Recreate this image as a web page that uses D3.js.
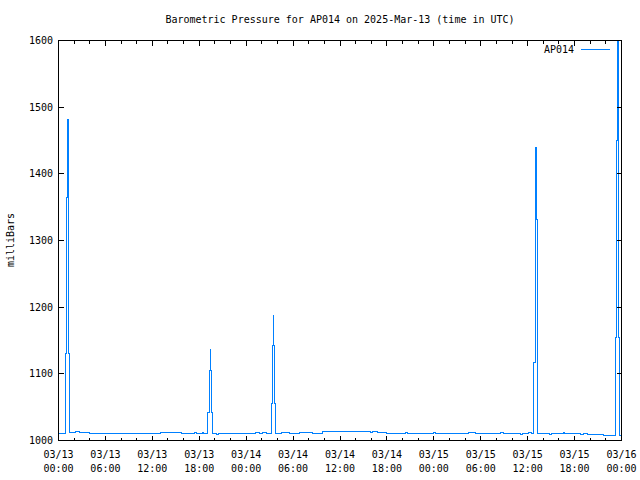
<!DOCTYPE html>
<html>
<head>
<meta charset="utf-8">
<script src="https://cdn.jsdelivr.net/npm/d3@7"></script>
<style>
  html, body { margin: 0; padding: 0; background: #fff; }
  svg text { font-family: "DejaVu Sans Mono", "Liberation Mono", monospace; font-size: 10px; fill: #000; }
</style>
</head>
<body>
<svg id="chart" width="640" height="480"></svg>
<script>
// ---- Data (hours since 2025-03-13 00:00 UTC, pressure in millibars) ----
const hours = [
  0, 0.93, 1.06, 1.19, 1.24, 1.32, 1.47, 1.79, 2.18, 2.69, 2.91, 3.97,
  13.07, 15.72, 17.33, 17.64, 18.45, 18.58,
  19.09, 19.25, 19.38, 19.45, 19.54, 19.64,
  20.20, 20.46, 24.05, 24.72, 25.24, 25.75, 26.13, 26.61,
  27.20, 27.33, 27.45, 27.52, 27.58, 27.76,
  28.53, 29.59, 30.87, 32.54, 33.18, 33.82, 39.84, 40.14, 40.83, 41.98,
  44.32, 44.58, 47.91, 48.17, 52.43, 53.29, 56.50, 56.92, 59.06, 59.28,
  60.12, 60.43,
  60.76, 60.94, 61.02, 61.11, 61.20, 61.32,
  62.81, 63.03, 64.53, 64.73, 66.74, 67.17, 67.60, 69.73,
  71.27, 71.39, 71.48, 71.57, 71.65, 71.74, 72
];
const pressure = [
  1011, 1130, 1364, 1481, 1364, 1130, 1012.5, 1012, 1013, 1012.5, 1011.5, 1010,
  1011.5, 1010, 1011.5, 1010, 1011.5, 1010,
  1042, 1105, 1136, 1105, 1042, 1010,
  1008.5, 1010, 1011, 1010, 1011.5, 1010.5, 1012, 1010,
  1055, 1142, 1187, 1142, 1055, 1010,
  1012, 1011, 1011.5, 1010.5, 1011, 1013.5, 1011.5, 1013, 1012, 1010,
  1011.5, 1010, 1011.5, 1010, 1011.5, 1010, 1011.5, 1010, 1008.5, 1010,
  1011.5, 1010,
  1117, 1331, 1440, 1331, 1117, 1010,
  1008.5, 1010, 1011.5, 1010, 1008.5, 1010, 1008.5, 1007,
  1155, 1450, 1620, 1450, 1155, 1007, 1007
];
const seriesName = "AP014";
const titleText = "Barometric Pressure for AP014 on 2025-Mar-13 (time in UTC)";
const yLabel = "milliBars";
const yTicks = [1000, 1100, 1200, 1300, 1400, 1500, 1600];
const startMs = Date.UTC(2025, 2, 13, 0, 0);
const endMs = Date.UTC(2025, 2, 16, 0, 0);

const data = hours.map((h, i) => ({ t: new Date(startMs + h * 3600e3), v: pressure[i] }));

// ---- Layout ----
const svg = d3.select("#chart");
const L = 58.5, R = 621.5, T = 40.5, B = 440.5;

const x = d3.scaleUtc().domain([new Date(startMs), new Date(endMs)]).range([L, R]);
const y = d3.scaleLinear().domain([1000, 1600]).range([B, T]);

// Clip
svg.append("defs").append("clipPath").attr("id", "clip")
  .append("rect").attr("x", L).attr("y", T).attr("width", R - L).attr("height", B - T);

// Data line
const line = d3.line().x(d => x(d.t)).y(d => y(d.v)).curve(d3.curveStepAfter);
svg.append("path")
  .datum(data)
  .attr("clip-path", "url(#clip)")
  .attr("fill", "none")
  .attr("stroke", "#0080ff")
  .attr("stroke-width", 1)
  .attr("shape-rendering", "crispEdges")
  .attr("d", line);

// Ticks
const majorX = d3.utcHour.every(6).range(new Date(startMs), new Date(endMs + 1));
const minorX = d3.utcHour.every(2).range(new Date(startMs), new Date(endMs + 1))
  .filter(d => d.getUTCHours() % 6 !== 0);
const tickG = svg.append("g").attr("stroke", "#000").attr("stroke-width", 1).attr("shape-rendering", "crispEdges");
function px(v) { return Math.round(v - 0.5) + 0.5; }
majorX.forEach(d => {
  const xx = px(x(d));
  tickG.append("line").attr("x1", xx).attr("x2", xx).attr("y1", B).attr("y2", B - 5);
  tickG.append("line").attr("x1", xx).attr("x2", xx).attr("y1", T).attr("y2", T + 5);
});
minorX.forEach(d => {
  const xx = px(x(d));
  tickG.append("line").attr("x1", xx).attr("x2", xx).attr("y1", B).attr("y2", B - 3);
  tickG.append("line").attr("x1", xx).attr("x2", xx).attr("y1", T).attr("y2", T + 3);
});
yTicks.forEach(v => {
  const yy = px(y(v));
  tickG.append("line").attr("x1", L).attr("x2", L + 5).attr("y1", yy).attr("y2", yy);
  tickG.append("line").attr("x1", R).attr("x2", R - 5).attr("y1", yy).attr("y2", yy);
});

// Border
svg.append("rect").attr("x", L).attr("y", T).attr("width", R - L).attr("height", B - T)
  .attr("fill", "none").attr("stroke", "#000").attr("stroke-width", 1).attr("shape-rendering", "crispEdges");

// Y tick labels
svg.append("g").selectAll("text").data(yTicks).join("text")
  .attr("x", 53).attr("y", d => y(d)).attr("dy", "0.35em")
  .attr("text-anchor", "end").text(d => d);

// X tick labels
const fmtDate = d3.utcFormat("%m/%d"), fmtTime = d3.utcFormat("%H:%M");
const xl = svg.append("g").selectAll("g").data(majorX).join("g");
xl.append("text").attr("x", d => x(d)).attr("y", 458).attr("text-anchor", "middle").text(fmtDate);
xl.append("text").attr("x", d => x(d)).attr("y", 472).attr("text-anchor", "middle").text(fmtTime);

// Title
svg.append("text").attr("x", 340).attr("y", 23).attr("text-anchor", "middle").text(titleText);

// Y axis label
svg.append("text").attr("transform", "translate(14,240) rotate(-90)")
  .attr("text-anchor", "middle").text(yLabel);

// Legend
svg.append("text").attr("x", 574).attr("y", 53).attr("text-anchor", "end").text(seriesName);
svg.append("line").attr("x1", 581).attr("x2", 610).attr("y1", 49.5).attr("y2", 49.5)
  .attr("stroke", "#0080ff").attr("stroke-width", 1).attr("shape-rendering", "crispEdges");
</script>
</body>
</html>
